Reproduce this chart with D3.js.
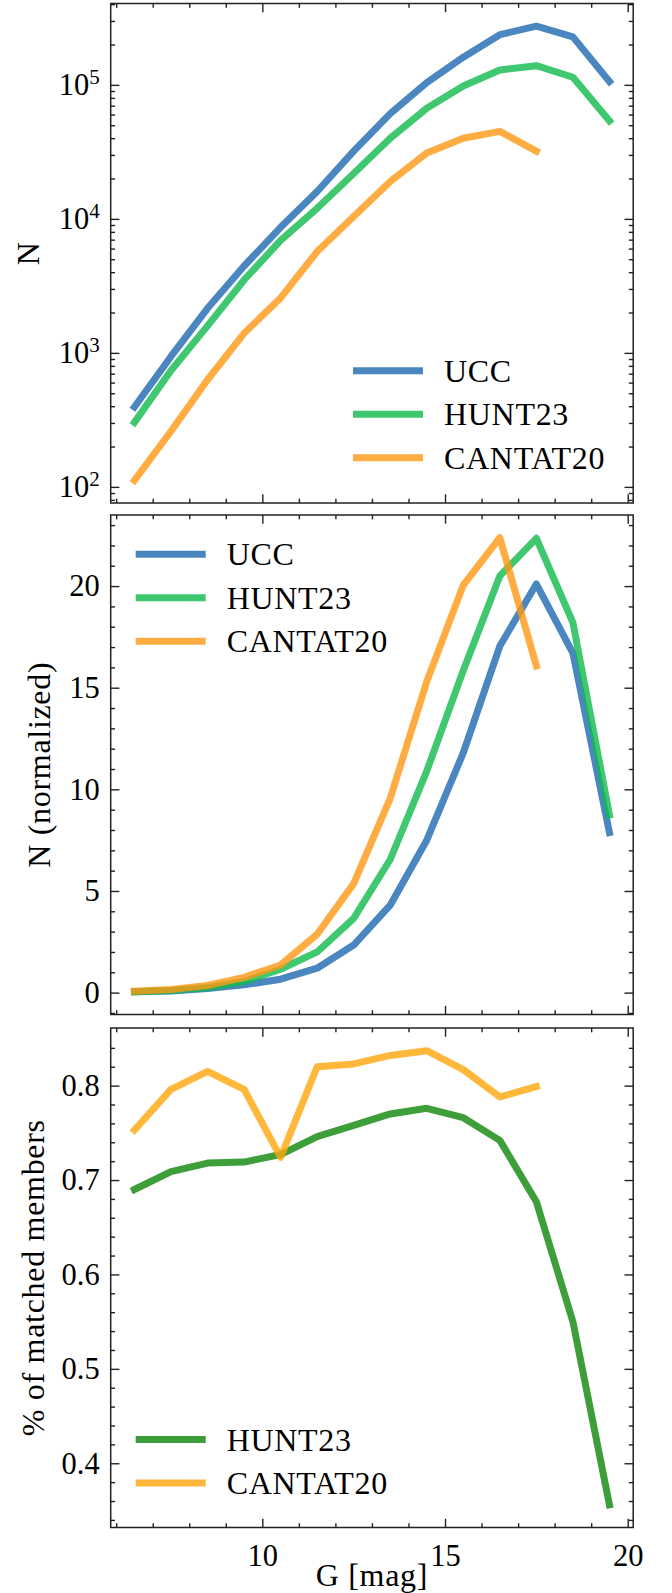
<!DOCTYPE html>
<html>
<head>
<meta charset="utf-8">
<script src="https://cdn.jsdelivr.net/npm/d3@7"></script>
<style>
  body { margin: 0; background: white; }
</style>
</head>
<body>
<svg id="chart"></svg>
<script>
var width = 672;
var height = 1593;
var serif = "'Liberation Serif', 'Times New Roman', Times, 'DejaVu Serif', serif";

// data
var gMag = [6.5, 7.5, 8.5, 9.5, 10.5, 11.5, 12.5, 13.5, 14.5, 15.5, 16.5, 17.5, 18.5, 19.5];

var uccN = [395, 940, 2150, 4450, 8650, 16000, 32000, 61000, 104000, 161000, 237000, 274000, 228000, 106000];
var hunt23N = [303, 740, 1590, 3500, 6900, 12000, 21800, 40000, 67000, 98000, 129000, 139000, 114000, 54000];
var cantat20N = [112, 260, 630, 1400, 2570, 5700, 10400, 19000, 31000, 40000, 45000, 32000];

var uccNorm = [0.05, 0.08, 0.2, 0.38, 0.66, 1.2, 2.34, 4.3, 7.5, 11.8, 17.05, 20.1, 16.7, 7.87];
var hunt23Norm = [0.04, 0.1, 0.25, 0.55, 1.15, 2.0, 3.65, 6.55, 10.9, 15.85, 20.5, 22.35, 18.2, 8.74];
var cantat20Norm = [0.07, 0.15, 0.35, 0.75, 1.36, 2.87, 5.36, 9.56, 15.3, 20.05, 22.38, 16.07];

var hunt23Match = [0.690, 0.709, 0.718, 0.719, 0.727, 0.746, 0.758, 0.770, 0.776, 0.766, 0.742, 0.677, 0.550, 0.356];
var cantat20Match = [0.753, 0.796, 0.815, 0.796, 0.724, 0.820, 0.823, 0.832, 0.837, 0.817, 0.788, 0.799];

var xTicks = [10, 15, 20];
var logTicks = [1e2, 1e3, 1e4, 1e5];
var normTicks = [0, 5, 10, 15, 20];
var matchTicks = [0.4, 0.5, 0.6, 0.7, 0.8];

var colUCC = "#1d68af";
var colHUNT = "#10ba4c";
var colCANTAT = "#ff9913";
var colHUNT2 = "#0c8609";
var colCANTAT2 = "#ffa60b";

var margin = { left: 110.7, right: 38.8 };
var panelTops = [3.5, 515, 1028];
var panelH = 499.5;
var majorLen = 8.7, minorLen = 4.35;

var svg = d3.select("#chart")
    .attr("width", width)
    .attr("height", height);

svg.append("rect")
    .attr("width", width)
    .attr("height", height)
    .attr("fill", "white");

var xScale = d3.scaleLinear()
    .domain([5.85, 20.15])
    .range([margin.left, width - margin.right]);

var xMinor = d3.range(6, 21, 1).filter(function(v) { return xTicks.indexOf(v) < 0; });

function padded(lo, hi) {
    var p = (hi - lo) * 0.05;
    return [lo - p, hi + p];
}

// label text: a bit larger + spaced to get close to the wide TeX face
function addText(sel) {
    return sel.append("text")
        .style("font-family", serif)
        .style("font-size", "32px")
        .attr("letter-spacing", 0.7)
        .attr("fill", "#000");
}

function drawPanel(opts) {
    var top = opts.top;
    var bottom = top + panelH;
    var g = svg.append("g");

    var yScale = opts.yScale.range([bottom, top]);

    // lines
    opts.series.forEach(function(s) {
        var pts = s.values.map(function(v, i) { return [gMag[i], v]; });
        var line = d3.line()
            .x(function(d) { return xScale(d[0]); })
            .y(function(d) { return yScale(d[1]); });
        g.append("path")
            .attr("d", line(pts))
            .attr("fill", "none")
            .attr("stroke", s.color)
            .attr("stroke-width", 7)
            .attr("stroke-linejoin", "round")
            .attr("stroke-linecap", "square")
            .attr("opacity", 0.8);
    });

    // x ticks, bottom + top
    g.append("g").attr("transform", "translate(0," + bottom + ")")
        .call(d3.axisBottom(xScale).tickValues(xTicks).tickSize(-majorLen).tickPadding(16.5)
            .tickFormat(opts.xLabels ? d3.format("d") : ""));
    g.append("g").attr("transform", "translate(0," + bottom + ")")
        .call(d3.axisBottom(xScale).tickValues(xMinor).tickSize(-minorLen).tickFormat(""));
    g.append("g").attr("transform", "translate(0," + top + ")")
        .call(d3.axisTop(xScale).tickValues(xTicks).tickSize(-majorLen).tickFormat(""));
    g.append("g").attr("transform", "translate(0," + top + ")")
        .call(d3.axisTop(xScale).tickValues(xMinor).tickSize(-minorLen).tickFormat(""));

    // y ticks, left + right
    var yl = g.append("g").attr("transform", "translate(" + margin.left + ",0)")
        .call(d3.axisLeft(yScale).tickValues(opts.yTicks).tickSize(-majorLen).tickPadding(11)
            .tickFormat(opts.yFormat));
    g.append("g").attr("transform", "translate(" + margin.left + ",0)")
        .call(d3.axisLeft(yScale).tickValues(opts.yMinor).tickSize(-minorLen).tickFormat(""));
    g.append("g").attr("transform", "translate(" + (width - margin.right) + ",0)")
        .call(d3.axisRight(yScale).tickValues(opts.yTicks).tickSize(-majorLen).tickFormat(""));
    g.append("g").attr("transform", "translate(" + (width - margin.right) + ",0)")
        .call(d3.axisRight(yScale).tickValues(opts.yMinor).tickSize(-minorLen).tickFormat(""));

    g.selectAll(".domain").remove();
    g.selectAll(".tick line").attr("stroke", "#222").attr("stroke-width", 1.4);
    g.selectAll(".tick text")
        .style("font-family", serif)
        .style("font-size", "30.5px")
        .attr("fill", "#000");

    if (opts.logLabels) {
        yl.selectAll(".tick text").each(function(d) {
            var t = d3.select(this).text("");
            t.append("tspan").text("10");
            t.append("tspan").style("font-size", "21px").attr("dy", "-0.55em")
                .text(Math.round(Math.log10(d)));
        });
    }

    // frame
    g.append("rect")
        .attr("x", margin.left)
        .attr("y", top)
        .attr("width", width - margin.right - margin.left)
        .attr("height", panelH)
        .attr("fill", "none")
        .attr("stroke", "#222")
        .attr("stroke-width", 1.5);

    // y label
    addText(g)
        .attr("transform", "translate(" + opts.yLabelX + "," + (top + panelH / 2) + ") rotate(-90)")
        .attr("text-anchor", "middle")
        .text(opts.yLabel);

    // legend
    opts.series.forEach(function(s, i) {
        var ly = opts.legend.y + i * 43.5;
        g.append("line")
            .attr("x1", opts.legend.x)
            .attr("x2", opts.legend.x + 70)
            .attr("y1", ly)
            .attr("y2", ly)
            .attr("stroke", s.color)
            .attr("stroke-width", 7)
            .attr("opacity", 0.8);
        addText(g)
            .attr("x", opts.legend.x + 91)
            .attr("y", ly + 11)
            .text(s.name);
    });
}

// panel 1: counts, log scale
var allN = uccN.concat(hunt23N, cantat20N);
var logDom = padded(Math.log10(d3.min(allN)), Math.log10(d3.max(allN)));
var logMinor = [];
for (var e = 1; e <= 5; e++) {
    for (var m = 2; m <= 9; m++) {
        var v = m * Math.pow(10, e);
        if (Math.log10(v) > logDom[0] && Math.log10(v) < logDom[1]) logMinor.push(v);
    }
}
drawPanel({
    top: panelTops[0],
    yScale: d3.scaleLog().domain([Math.pow(10, logDom[0]), Math.pow(10, logDom[1])]),
    yTicks: logTicks,
    yMinor: logMinor,
    yFormat: function(d) { return d; },
    logLabels: true,
    yLabel: "N",
    yLabelX: 38.8,
    xLabels: false,
    legend: { x: 353, y: 370.7 },
    series: [
        { name: "UCC", values: uccN, color: colUCC },
        { name: "HUNT23", values: hunt23N, color: colHUNT },
        { name: "CANTAT20", values: cantat20N, color: colCANTAT }
    ]
});

// panel 2: normalized counts
var allNorm = uccNorm.concat(hunt23Norm, cantat20Norm);
drawPanel({
    top: panelTops[1],
    yScale: d3.scaleLinear().domain(padded(d3.min(allNorm), d3.max(allNorm))),
    yTicks: normTicks,
    yMinor: d3.range(-1, 24, 1).filter(function(v) { return v % 5 !== 0; }),
    yFormat: d3.format("d"),
    yLabel: "N (normalized)",
    yLabelX: 49.5,
    xLabels: false,
    legend: { x: 135.7, y: 554.3 },
    series: [
        { name: "UCC", values: uccNorm, color: colUCC },
        { name: "HUNT23", values: hunt23Norm, color: colHUNT },
        { name: "CANTAT20", values: cantat20Norm, color: colCANTAT }
    ]
});

// panel 3: matched fraction
var allMatch = hunt23Match.concat(cantat20Match);
var matchDom = padded(d3.min(allMatch), d3.max(allMatch));
drawPanel({
    top: panelTops[2],
    yScale: d3.scaleLinear().domain(matchDom),
    yTicks: matchTicks,
    yMinor: d3.range(34, 86, 2).map(function(v) { return v / 100; })
        .filter(function(v) { return Math.round(v * 100) % 10 !== 0 && v > matchDom[0] && v < matchDom[1]; }),
    yFormat: d3.format(".1f"),
    yLabel: "% of matched members",
    yLabelX: 43.5,
    xLabels: true,
    legend: { x: 135.7, y: 1439.5 },
    series: [
        { name: "HUNT23", values: hunt23Match, color: colHUNT2 },
        { name: "CANTAT20", values: cantat20Match, color: colCANTAT2 }
    ]
});

addText(svg)
    .attr("x", (margin.left + width - margin.right) / 2)
    .attr("y", 1586)
    .attr("text-anchor", "middle")
    .text("G [mag]");
</script>
</body>
</html>
